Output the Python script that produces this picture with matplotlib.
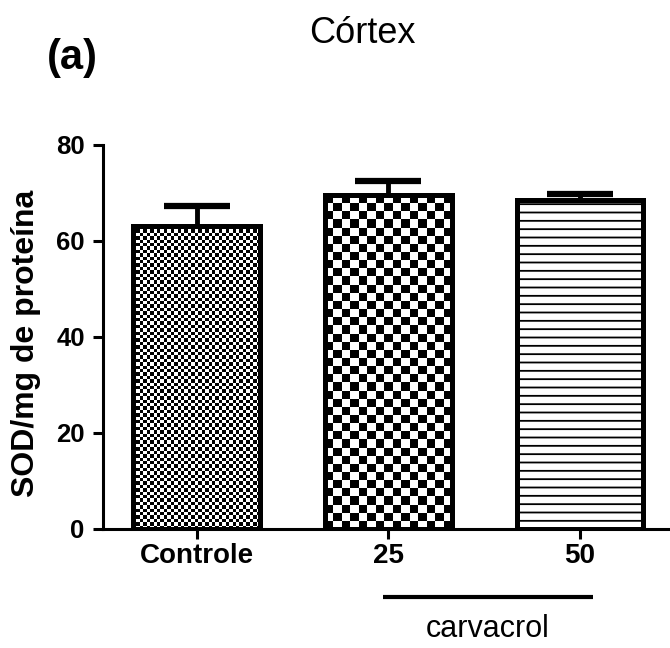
import numpy as np
import matplotlib
matplotlib.use("Agg")
import matplotlib.pyplot as plt
import matplotlib.transforms as mtransforms

# ---- data ----
categories = ["Controle", "25", "50"]
means = [63.2, 69.5, 68.6]
errors = [4.0, 2.9, 1.2]
yticks = [0, 20, 40, 60, 80]
group_label = "carvacrol"
group_members = [1, 2]
title = "Córtex"
panel = "(a)"
ylabel = "SOD/mg de proteína"

plt.rcParams["font.family"] = ["Liberation Sans", "DejaVu Sans"]
plt.rcParams["hatch.linewidth"] = 1.3

W, H = 670, 648
fig = plt.figure(figsize=(W / 100, H / 100), dpi=100)
ax_left, ax_bottom = 102.7 / W, (H - 528.5) / H
ax_top = (H - 145) / H
ax = fig.add_axes([ax_left, ax_bottom, 1 - ax_left, ax_top - ax_bottom])

x = np.arange(len(categories))
width = 0.66

ax.set_xlim(-0.49, 2.47)
ax.set_ylim(0, 80)

# error bars (behind bars, only upper part visible)
ax.errorbar(x, means, yerr=errors, fmt="none", ecolor="black",
            elinewidth=3.5, capsize=24, capthick=4.5, zorder=1)

# white fill bars (clip shapes)
fills = ax.bar(x, means, width=width, facecolor="white", edgecolor="none", zorder=2)

# checkerboard textures for first two bars
px_per_x = (W - 102.7) / (2.47 + 0.49)
px_per_y = (528.5 - 145) / 80
for i, sq in [(0, 3.4), (1, 8.2)]:
    r = fills[i]
    x0, w = r.get_x(), r.get_width()
    h = r.get_height()
    nx = max(1, int(round(w * px_per_x / sq)))
    ny = max(1, int(round(h * px_per_y / sq)))
    board = (np.indices((ny, nx)).sum(axis=0) % 2).astype(float)
    im = ax.imshow(board, extent=(x0, x0 + w, 0, h), origin="lower",
                   cmap="gray", interpolation="nearest", aspect="auto",
                   zorder=2.5, vmin=0, vmax=1)
    im.set_clip_path(r)

# outlines (third bar hatched with horizontal lines)
hatches = ["", "", "--"]
outl = ax.bar(x, means, width=width, fill=False, edgecolor="black",
              linewidth=3.6, zorder=3)
for b, hp in zip(outl, hatches):
    b.set_hatch(hp)

ax.set_xlim(-0.49, 2.47)
ax.set_ylim(0, 80)

# axes styling
for s in ["top", "right"]:
    ax.spines[s].set_visible(False)
for s in ["left", "bottom"]:
    ax.spines[s].set_linewidth(2.2)

ax.set_xticks(x)
ax.set_xticklabels(categories)
ax.set_yticks(yticks)
ax.tick_params(axis="both", width=2.2, length=7.5, direction="out")
ax.tick_params(axis="x", pad=3, labelsize=20)
ax.tick_params(axis="y", pad=5.5, labelsize=18.5)
for lbl in ax.get_xticklabels() + ax.get_yticklabels():
    lbl.set_fontweight("bold")

ax.set_ylabel(ylabel, fontsize=23, fontweight="bold")
ax.yaxis.set_label_coords(-0.108, 0.482)

# group line + label
trans = mtransforms.blended_transform_factory(ax.transData, ax.transAxes)
gx0 = group_members[0] - 0.03
gx1 = group_members[-1] + 0.07
ax.plot([gx0, gx1], [-0.1786, -0.1786], color="black", lw=3,
        transform=trans, clip_on=False, solid_capstyle="butt")
ax.text((gx0 + gx1) / 2, -0.283, group_label, transform=trans, ha="center",
        va="baseline", fontsize=22)

fig.text(362 / W, 1 - 43 / H, title, ha="center", va="baseline", fontsize=26)
fig.text(47 / W, 1 - 69 / H, panel, ha="left", va="baseline", fontsize=30,
         fontweight="bold")

fig.savefig("out.png", dpi=100)
